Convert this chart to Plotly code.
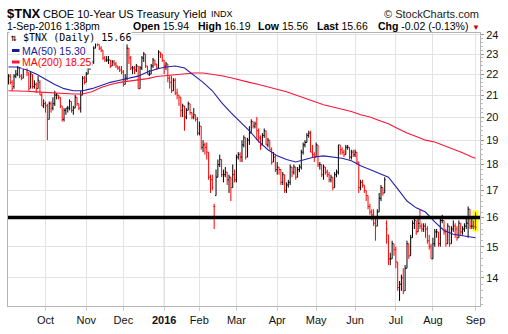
import math
import pandas as pd
import plotly.graph_objects as go

# ---------------- data ----------------
holidays = ["2015-09-07", "2015-11-26", "2015-12-25", "2016-01-01", "2016-01-18",
            "2016-02-15", "2016-03-25", "2016-05-30", "2016-07-04"]
dates = [d for d in pd.bdate_range("2015-09-02", "2016-09-01")
         if d.strftime("%Y-%m-%d") not in holidays]

opens = [
    # Sep 2015
    21.7, 21.9, 21.6, 21.4, 21.9, 22.0, 22.3, 21.9, 21.8, 22.8, 22.9, 22.0, 21.4, 21.9, 21.4, 21.5, 21.3, 21.6, 21.0, 20.5,
    # Oct
    20.6, 20.5, 19.9, 20.6, 20.4, 20.6, 21.0, 21.0, 20.9, 20.5, 19.9, 20.3, 20.4, 20.4, 20.7, 20.3, 20.4, 20.9, 20.6, 20.4, 21.0, 21.8,
    # Nov
    21.6, 22.0, 22.3, 22.5, 22.6, 23.3, 23.6, 23.5, 23.3, 23.2, 22.8, 22.7, 22.7, 22.7, 22.4, 22.6, 22.5, 22.4, 22.3, 22.2,
    # Dec
    22.1, 21.5, 21.8, 23.3, 22.8, 22.3, 22.3, 22.2, 22.4, 21.3, 22.3, 22.8, 23.0, 22.4, 22.0, 22.0, 22.4, 22.7, 22.5, 22.3, 23.1, 23.0,
    # Jan 2016
    22.7, 22.4, 22.5, 21.8, 21.6, 21.2, 21.7, 21.1, 21.0, 20.9, 20.3, 20.5, 20.0, 20.3, 20.6, 20.2, 20.0, 20.1, 19.9,
    # Feb
    19.3, 19.6, 18.7, 18.8, 18.7, 18.5, 17.5, 17.4, 16.4, 16.8, 17.5, 18.0, 18.2, 17.6, 17.6, 17.7, 17.4, 17.5, 17.1, 17.6,
    # Mar
    17.4, 18.3, 18.4, 18.3, 18.8, 19.1, 18.3, 19.0, 19.3, 19.8, 19.6, 19.7, 19.4, 19.1, 18.8, 19.2, 19.4, 18.8, 19.0, 18.6, 18.1, 18.3,
    # Apr
    17.8, 17.9, 17.8, 17.3, 17.6, 17.0, 17.2, 17.3, 17.9, 17.7, 17.9, 17.5, 17.8, 17.9, 18.5, 18.8, 18.9, 19.2, 19.3, 18.5, 18.4,
    # May
    18.3, 18.8, 18.0, 18.0, 17.6, 17.9, 17.7, 17.6, 17.4, 17.5, 17.1, 17.6, 17.7, 18.8, 18.6, 18.5, 18.4, 18.7, 18.7, 18.3, 18.5,
    # Jun
    18.4, 18.5, 18.1, 17.1, 17.3, 17.2, 17.0, 16.8, 16.4, 16.2, 16.1, 15.8, 15.7, 16.2, 16.7, 17.1, 16.9, 15.8, 15.4, 14.6, 14.6, 15.1,
    # Jul
    14.9, 14.5, 13.7, 13.8, 14.0, 13.6, 14.3, 15.1, 14.7, 15.3, 15.8, 15.9, 15.5, 15.8, 15.7, 15.6, 15.7, 15.6, 15.2, 15.0,
    # Aug
    14.6, 15.1, 15.5, 15.5, 15.1, 15.9, 15.9, 15.5, 15.1, 15.7, 15.1, 15.6, 15.7, 15.6, 15.3, 15.8, 15.5, 15.6, 15.7, 15.8, 16.3, 15.7, 15.7,
    # Sep 1
    15.94,
]
highs = [
    22.0, 22.0, 21.7, 22.0, 22.2, 22.4, 22.3, 22.0, 22.9, 23.1, 23.0, 22.1, 22.1, 22.0, 21.7, 21.6, 21.9, 21.7, 21.1, 20.8,
    20.7, 20.6, 20.7, 20.7, 20.9, 21.2, 21.1, 21.0, 20.9, 20.5, 20.4, 20.4, 20.5, 20.8, 20.7, 20.5, 21.0, 20.9, 20.6, 21.2, 21.9, 21.9,
    22.1, 22.4, 22.6, 22.7, 23.4, 23.7, 23.7, 23.5, 23.4, 23.2, 22.9, 22.9, 22.9, 22.7, 22.7, 22.7, 22.6, 22.4, 22.4, 22.4,
    22.2, 22.0, 23.5, 23.3, 22.9, 22.4, 22.4, 22.5, 22.4, 22.4, 22.9, 23.1, 23.0, 22.4, 22.2, 22.5, 22.8, 22.7, 22.5, 23.2, 23.1, 23.0,
    22.7, 22.6, 22.5, 21.9, 21.9, 21.8, 21.8, 21.3, 21.0, 20.9, 20.6, 20.5, 20.4, 20.7, 20.6, 20.2, 20.4, 20.1, 20.0,
    19.8, 19.6, 19.0, 18.9, 18.9, 18.5, 17.6, 17.6, 16.5, 17.8, 18.2, 18.4, 18.2, 17.8, 17.9, 17.7, 17.6, 17.5, 18.0, 17.8,
    18.4, 18.5, 18.5, 19.0, 19.2, 19.1, 19.1, 19.6, 19.9, 19.8, 19.8, 20.0, 19.5, 19.2, 19.3, 19.5, 19.4, 19.1, 19.0, 18.7, 18.5, 18.4,
    18.1, 17.9, 17.8, 17.7, 17.6, 17.3, 17.4, 18.0, 17.9, 18.0, 17.9, 17.9, 18.0, 18.6, 18.9, 19.0, 19.3, 19.4, 19.4, 18.8, 18.5,
    18.9, 18.8, 18.1, 18.0, 18.0, 17.9, 17.8, 17.7, 17.6, 17.5, 17.7, 17.8, 18.8, 18.8, 18.7, 18.6, 18.8, 18.8, 18.7, 18.6, 18.6,
    18.6, 18.5, 18.1, 17.4, 17.4, 17.2, 17.0, 16.8, 16.5, 16.3, 16.3, 16.0, 16.3, 16.9, 17.2, 17.1, 17.5, 15.9, 15.4, 14.8, 15.2, 15.1,
    15.0, 14.5, 13.9, 14.1, 14.3, 14.4, 15.2, 15.1, 15.4, 15.9, 16.0, 15.9, 16.0, 16.3, 15.8, 15.8, 15.8, 15.7, 15.4, 15.1,
    15.3, 15.6, 15.6, 15.5, 16.0, 16.1, 15.9, 15.6, 15.8, 15.7, 15.7, 15.9, 15.8, 15.7, 15.9, 15.8, 15.7, 15.8, 16.0, 16.4, 16.3, 16.0, 15.9,
    16.19,
]
lows = [
    21.5, 21.5, 21.2, 21.3, 21.8, 21.9, 21.8, 21.7, 21.8, 22.7, 21.9, 21.2, 21.3, 21.3, 21.3, 21.1, 21.3, 21.0, 20.5, 20.4,
    20.2, 19.0, 19.9, 20.2, 20.3, 20.5, 20.8, 20.8, 20.4, 19.8, 19.8, 20.1, 20.2, 20.3, 20.2, 20.1, 20.4, 20.5, 20.3, 20.2, 21.0, 21.5,
    21.6, 22.0, 22.2, 22.4, 22.5, 23.3, 23.4, 23.2, 23.1, 22.7, 22.6, 22.6, 22.5, 22.3, 22.4, 22.4, 22.3, 22.2, 22.1, 22.0,
    21.4, 21.5, 21.7, 22.5, 22.2, 22.0, 22.0, 22.1, 21.3, 21.3, 22.2, 22.6, 22.3, 22.0, 21.9, 22.0, 22.3, 22.4, 22.2, 22.3, 22.8, 22.6,
    22.0, 22.2, 21.6, 21.3, 21.1, 21.2, 21.0, 20.8, 20.5, 20.0, 20.0, 19.4, 19.9, 20.3, 20.1, 19.9, 19.9, 19.8, 19.2,
    19.2, 18.6, 18.5, 18.4, 18.2, 17.4, 16.9, 17.0, 15.6, 16.8, 17.5, 17.9, 17.5, 17.3, 17.5, 17.2, 16.9, 16.6, 17.1, 17.3,
    17.3, 18.2, 18.1, 18.1, 18.7, 18.2, 18.3, 18.8, 19.3, 19.5, 19.5, 19.0, 18.9, 18.6, 18.8, 19.1, 18.8, 18.7, 18.6, 18.0, 18.1, 17.7,
    17.6, 17.6, 17.2, 17.2, 16.9, 16.9, 17.1, 17.2, 17.5, 17.6, 17.4, 17.5, 17.7, 17.8, 18.4, 18.7, 18.9, 19.1, 18.5, 18.3, 18.1,
    18.3, 17.9, 17.8, 17.5, 17.4, 17.6, 17.5, 17.3, 17.3, 17.0, 17.1, 17.5, 17.6, 18.4, 18.4, 18.3, 18.4, 18.6, 18.2, 18.2, 18.3,
    18.3, 18.0, 16.9, 17.0, 17.1, 16.9, 16.6, 16.3, 16.1, 15.9, 15.7, 15.2, 15.7, 16.2, 16.6, 16.8, 16.9, 15.1, 14.4, 14.4, 14.6, 14.7,
    14.3, 13.6, 13.3, 13.6, 13.5, 13.6, 14.3, 14.6, 14.7, 15.3, 15.6, 15.4, 15.5, 15.6, 15.5, 15.5, 15.3, 15.1, 14.9, 14.6,
    14.6, 15.0, 15.3, 15.0, 15.0, 15.8, 15.4, 15.0, 15.1, 15.0, 15.1, 15.5, 15.3, 15.2, 15.3, 15.4, 15.4, 15.5, 15.6, 15.3, 15.6, 15.6, 15.6,
    15.56,
]
closes = [
    21.9, 21.6, 21.3, 21.9, 22.0, 22.3, 21.9, 21.8, 22.8, 22.95, 22.1, 21.3, 22.0, 21.4, 21.5, 21.3, 21.7, 21.0, 20.5, 20.6,
    20.5, 19.9, 20.6, 20.4, 20.6, 21.0, 21.0, 20.9, 20.5, 19.9, 20.3, 20.4, 20.4, 20.7, 20.3, 20.4, 20.9, 20.6, 20.4, 21.0, 21.8, 21.6,
    22.0, 22.3, 22.5, 22.6, 23.3, 23.6, 23.5, 23.3, 23.2, 22.8, 22.7, 22.7, 22.7, 22.4, 22.6, 22.5, 22.4, 22.3, 22.2, 22.1,
    21.5, 21.8, 23.3, 22.8, 22.3, 22.3, 22.2, 22.4, 21.3, 22.3, 22.8, 23.0, 22.4, 22.0, 22.0, 22.4, 22.7, 22.5, 22.3, 23.1, 23.0, 22.7,
    22.4, 22.5, 21.8, 21.6, 21.2, 21.7, 21.1, 21.0, 20.9, 20.3, 20.5, 20.0, 20.3, 20.6, 20.2, 20.0, 20.1, 19.9, 19.3,
    19.6, 18.7, 18.8, 18.7, 18.5, 17.5, 17.4, 17.1, 16.4, 17.5, 18.0, 18.2, 17.6, 17.6, 17.7, 17.4, 17.5, 17.1, 17.6, 17.4,
    18.3, 18.4, 18.3, 18.8, 19.1, 18.3, 19.0, 19.3, 19.8, 19.6, 19.7, 19.4, 19.1, 18.8, 19.2, 19.4, 18.8, 19.0, 18.6, 18.1, 18.3, 17.8,
    17.9, 17.8, 17.3, 17.6, 17.0, 17.2, 17.3, 17.9, 17.7, 17.9, 17.5, 17.8, 17.9, 18.5, 18.8, 18.9, 19.2, 19.3, 18.5, 18.4, 18.3,
    18.8, 18.0, 18.0, 17.6, 17.9, 17.7, 17.6, 17.4, 17.5, 17.1, 17.6, 17.7, 18.8, 18.6, 18.5, 18.4, 18.7, 18.7, 18.3, 18.5, 18.4,
    18.5, 18.1, 17.1, 17.3, 17.2, 17.0, 16.8, 16.4, 16.2, 16.1, 15.8, 15.7, 16.2, 16.7, 17.1, 16.9, 17.4, 15.6, 14.6, 14.6, 15.1, 14.9,
    14.5, 13.7, 13.8, 14.0, 13.6, 14.3, 15.1, 14.7, 15.3, 15.8, 15.9, 15.5, 15.8, 15.7, 15.6, 15.7, 15.6, 15.2, 15.0, 14.6,
    15.1, 15.5, 15.5, 15.1, 15.9, 15.9, 15.5, 15.1, 15.7, 15.1, 15.6, 15.7, 15.6, 15.3, 15.8, 15.5, 15.6, 15.7, 15.8, 16.3, 15.7, 15.7, 15.68,
    15.66,
]
prev_close_first = 21.7

ma50_values = [22.35, 22.35, 22.2, 22.0, 21.75, 21.5, 21.3, 21.2, 21.2, 21.3, 21.45, 21.6, 21.7, 21.8, 21.9,
               22.1, 22.25, 22.35, 22.4, 22.3, 21.95, 21.6, 21.2, 20.65, 20.2, 19.8, 19.4, 18.95, 18.6, 18.35,
               18.2, 18.1, 18.2, 18.3, 18.35, 18.3, 18.25, 18.15, 17.95, 17.8, 17.65, 17.5, 17.05, 16.6, 16.35,
               16.2, 15.85, 15.55, 15.42, 15.38, 15.32, 15.30]
ma200_values = [21.2, 21.2, 21.18, 21.15, 21.12, 21.08, 21.05, 21.05, 21.05, 21.15, 21.35, 21.5, 21.6, 21.65,
                21.7, 21.78, 21.88, 21.93, 21.98, 22.02, 22.05, 22.05, 22.0, 21.92, 21.82, 21.7, 21.6, 21.5,
                21.38, 21.28, 21.15, 21.0, 20.85, 20.7, 20.55, 20.45, 20.35, 20.25, 20.1, 20.0, 19.85, 19.7,
                19.5, 19.3, 19.15, 19.0, 18.92, 18.78, 18.64, 18.48, 18.3, 18.25]

y_ticks = [14, 15, 16, 17, 18, 19, 20, 21, 22, 23, 24]
month_labels = ["Oct", "Nov", "Dec", "<b>2016</b>", "Feb", "Mar", "Apr", "May", "Jun", "Jul", "Aug", "Sep"]
support_level = 16.0

# ---------------- derived ----------------
n = min(len(dates), len(opens), len(highs), len(lows), len(closes))
xs = list(range(1, n + 1))
up_i, dn_i = [], []
for i in range(n):
    prev = closes[i - 1] if i > 0 else prev_close_first
    (up_i if closes[i] >= prev else dn_i).append(i)

ma_x = list(range(1, n, 5))[: len(ma50_values) - 1] + [n]

month_starts = []
for i in range(1, n):
    if dates[i].month != dates[i - 1].month:
        month_starts.append(i + 1)
month_starts = month_starts[: len(month_labels)]

W, H = 508, 334
ML, MR, MT, MB = 8, 28, 33, 28
PW, PH = W - ML - MR, H - MT - MB


def fx(px):
    return (px - ML) / PW


def fy(py):
    return (H - MB - py) / PH


fig = go.Figure()


def ohlc(idx, color):
    return go.Ohlc(
        x=[xs[i] for i in idx], open=[opens[i] for i in idx], high=[highs[i] for i in idx],
        low=[lows[i] for i in idx], close=[closes[i] for i in idx],
        increasing=dict(line=dict(color=color, width=1)),
        decreasing=dict(line=dict(color=color, width=1)),
        tickwidth=0.5, hoverinfo="skip", showlegend=False)


fig.add_trace(ohlc(up_i, "#000000"))
fig.add_trace(ohlc(dn_i, "#ff0000"))
fig.add_trace(go.Scatter(x=ma_x, y=ma200_values, mode="lines", line=dict(color="#ff1438", width=1.1),
                         hoverinfo="skip", showlegend=False))
fig.add_trace(go.Scatter(x=ma_x, y=ma50_values, mode="lines", line=dict(color="#2222aa", width=1.1),
                         hoverinfo="skip", showlegend=False))

minor_vals = [round(13.2 + 0.2 * k, 1) for k in range(56)]
minor_vals = [v for v in minor_vals if abs(v - round(v)) > 0.01 and v < 24.1]

fig.update_layout(
    width=W, height=H, margin=dict(l=ML, r=MR, t=MT, b=MB),
    paper_bgcolor="white", plot_bgcolor="white",
    font=dict(family="Liberation Sans, Arial, sans-serif", size=11, color="#111"),
    xaxis=dict(range=[0.77, n + 2.4], tickmode="array", tickvals=month_starts, ticktext=month_labels,
               showgrid=True, gridcolor="#e3e3e3", gridwidth=1, zeroline=False,
               ticks="outside", ticklen=4, tickcolor="#cccccc",
               showline=True, linecolor="#b4b4b4", linewidth=1, mirror=True,
               tickfont=dict(size=11, color="#111"), rangeslider=dict(visible=False), fixedrange=True),
    yaxis=dict(type="log", range=[math.log10(13.15), math.log10(24.1)], side="right",
               tickmode="array", tickvals=y_ticks, ticktext=[str(v) for v in y_ticks],
               showgrid=True, gridcolor="#e3e3e3", gridwidth=1, zeroline=False,
               ticks="outside", ticklen=3, tickcolor="#999999",
               minor=dict(tickmode="array", tickvals=minor_vals, ticks="outside", ticklen=2,
                          tickcolor="#bbbbbb", showgrid=False),
               showline=True, linecolor="#b4b4b4", linewidth=1, mirror=True,
               tickfont=dict(size=11, color="#111"), fixedrange=True),
)

# year gridline slightly darker
jan_idx = month_starts[3]
shapes = [
    dict(type="line", xref="x", yref="paper", x0=jan_idx, x1=jan_idx, y0=0, y1=1,
         line=dict(color="#cfcfcf", width=1), layer="below"),
    dict(type="rect", xref="x", yref="y", x0=n - 1.6, x1=n + 1.5,
         y0=lows[n - 1] * 0.997, y1=highs[n - 1] * 1.004,
         fillcolor="#ffff00", line=dict(width=0), layer="below"),
    dict(type="line", xref="paper", yref="y", x0=0, x1=1, y0=support_level, y1=support_level,
         line=dict(color="#000000", width=3.5), layer="above"),
    dict(type="line", xref="paper", yref="paper", x0=fx(12), x1=fx(19.5), y0=fy(50.5), y1=fy(50.5),
         line=dict(color="#1a1a99", width=3), layer="above"),
    dict(type="line", xref="paper", yref="paper", x0=fx(12), x1=fx(19.5), y0=fy(62), y1=fy(62),
         line=dict(color="#ff1438", width=3), layer="above"),
]

last_o, last_h, last_l, last_c = opens[n - 1], highs[n - 1], lows[n - 1], closes[n - 1]
chg = last_c - closes[n - 2]
chg_pct = chg / closes[n - 2] * 100

ann = []


def add(text, x, y, size=11, color="#000", anchor="left", family=None, bg=None):
    d = dict(text=text, xref="paper", yref="paper", x=fx(x), y=fy(y), xanchor=anchor, yanchor="middle",
             showarrow=False, font=dict(size=size, color=color,
                                         family=family or "Liberation Sans, Arial, sans-serif"),
             borderpad=0)
    if bg:
        d["bgcolor"] = bg
    ann.append(d)


add("<b>$TNX</b>", 6, 13, size=13)
add("CBOE 10-Year US Treasury Yield", 42, 13.5, size=11)
add("INDX", 210, 14, size=9)
add("© StockCharts.com", 480, 13.5, size=11, anchor="right", color="#222")
add("1-Sep-2016 1:38pm", 6, 26, size=10.5)
add("<b>Open</b> %.2f" % last_o, 132, 26, size=10.5)
add("<b>High</b> %.2f" % last_h, 197, 26, size=10.5)
add("<b>Low</b> %.2f" % last_l, 257, 26, size=10.5)
add("<b>Last</b> %.2f" % last_c, 316, 26, size=10.5)
add("<b>Chg</b> %.2f (%.2f%%)" % (chg, chg_pct), 377, 26, size=10.5)
add("▼", 476, 27, size=8, color="#cc0000", anchor="center")

add("⇅ $TNX (Daily) %.2f" % last_c, 9, 37.5, size=10, family="DejaVu Sans Mono, monospace", bg="white")
add("MA(50) %.2f" % ma50_values[-1], 20.5, 50.5, size=10.5, color="#1a1a99", bg="white")
add("MA(200) %.2f" % ma200_values[-1], 20.5, 62, size=10.5, color="#ff0000", bg="white")

fig.update_layout(shapes=shapes, annotations=ann)
fig.write_html("out.html")
